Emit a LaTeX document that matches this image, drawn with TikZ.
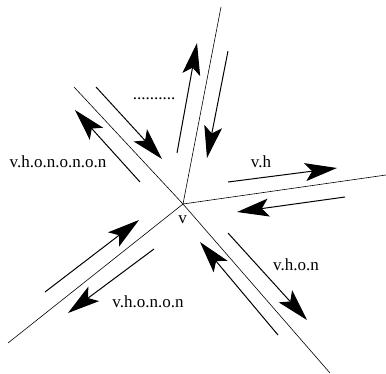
\documentclass[tikz,border=0pt]{standalone}
\usepackage{fontspec}
\setmainfont{Liberation Serif}
\usetikzlibrary{arrows.meta}
\begin{document}
\begin{tikzpicture}[x=1pt,y=-1pt,
  edge/.style={line width=0.6pt},
  flow/.style={line width=1pt,-{Stealth[length=32pt,width=18pt,inset=7pt]}},
  lbl/.style={font=\fontsize{17}{17}\selectfont,inner sep=0pt}]
\useasboundingbox (0,0) rectangle (386,373);
% centre and ends of the five edges
\coordinate (v) at (183,204);
\coordinate (eA) at (221,7);
\coordinate (eB) at (386,175);
\coordinate (eC) at (330,373);
\coordinate (eD) at (8,343);
\coordinate (eE) at (74,87);
\draw[edge] (v) -- (eA);
\draw[edge] (v) -- (eB);
\draw[edge] (v) -- (eC);
\draw[edge] (v) -- (eD);
\draw[edge] (v) -- (eE);
% arrow ends
\coordinate (a1t) at (140,182); \coordinate (a1h) at (75,110);
\coordinate (a2t) at (96,87);   \coordinate (a2h) at (162,159);
\coordinate (a3t) at (177,153); \coordinate (a3h) at (197,43);
\coordinate (a4t) at (228,51);  \coordinate (a4h) at (207,158);
\coordinate (a5t) at (228,182); \coordinate (a5h) at (337,168);
\coordinate (a6t) at (345,197); \coordinate (a6h) at (237,212);
\coordinate (a7t) at (228,233); \coordinate (a7h) at (307,320);
\coordinate (a8t) at (278,335); \coordinate (a8h) at (200,242);
\coordinate (a9t) at (45,292);  \coordinate (a9h) at (139,220);
\coordinate (a10t) at (154,249); \coordinate (a10h) at (68,313);
\foreach \i in {1,...,10} \draw[flow] (a\i t) -- (a\i h);
% labels
\node[lbl] (lv) at (182.5,220) {v};
\node[lbl] (lE) at (58,162) {v.h.o.n.o.n.o.n};
\node[lbl] (ldots) at (154,98.5) {..........};
\node[lbl] (lB) at (261,162) {v.h};
\node[lbl] (lC) at (296,265) {v.h.o.n};
\node[lbl] (lD) at (148,302) {v.h.o.n.o.n};
\end{tikzpicture}
\end{document}
